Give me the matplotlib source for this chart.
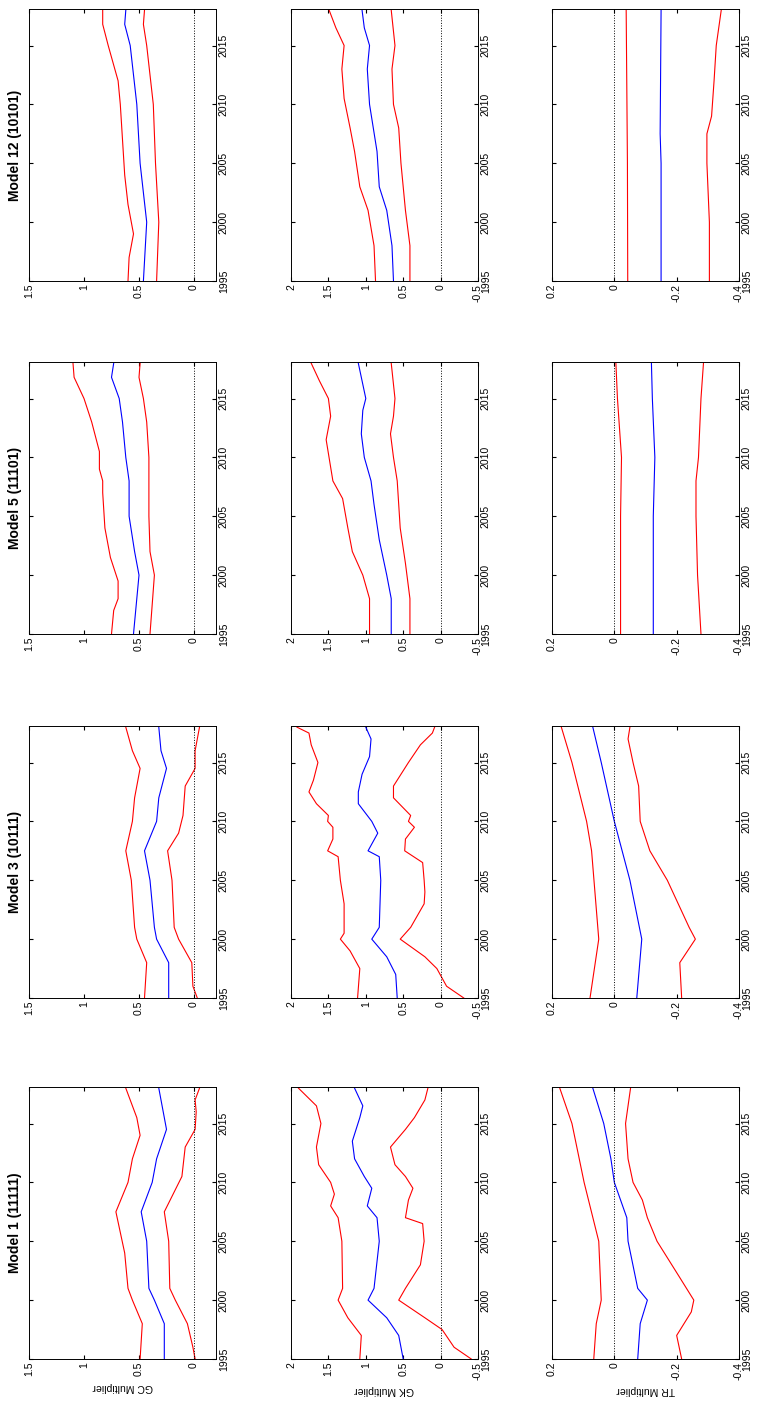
import matplotlib
matplotlib.use("Agg")
import matplotlib.pyplot as plt

plt.rcParams['font.family'] = ['Liberation Sans', 'DejaVu Sans']

models = ["Model 12 (10101)", "Model 5 (11101)", "Model 3 (10111)", "Model 1 (11111)"]
variables = ["GC", "GK", "TR"]

# ---- GC multiplier: (years, upper, mid, lower) ----
gc_m1_up_yr = [1995, 1998, 2000, 2001, 2004, 2007.5, 2010, 2012, 2014, 2015.5, 2018]
gc_m1_up = [0.49, 0.47, 0.56, 0.60, 0.63, 0.71, 0.60, 0.56, 0.49, 0.52, 0.62]
gc_m1_mid_yr = [1995, 1998, 2000, 2001, 2005, 2007.5, 2010, 2012, 2014.5, 2016, 2018]
gc_m1_mid = [0.27, 0.27, 0.36, 0.41, 0.43, 0.48, 0.38, 0.34, 0.25, 0.28, 0.32]
gc_m1_lo_yr = [1995, 1996, 1998, 2000, 2001, 2005, 2007.5, 2009, 2010.5, 2013, 2014.5, 2016, 2017, 2018]
gc_m1_lo = [-0.01, 0.01, 0.06, 0.17, 0.22, 0.23, 0.27, 0.19, 0.11, 0.08, -0.01, -0.02, -0.01, -0.05]

gc_m3_up_yr = [1995, 1998, 2000, 2001, 2005, 2007.5, 2010, 2012, 2014.5, 2016, 2018]
gc_m3_up = [0.45, 0.43, 0.52, 0.54, 0.57, 0.62, 0.56, 0.54, 0.49, 0.56, 0.62]
gc_m3_mid_yr = [1995, 1998, 2000, 2001, 2005, 2007.5, 2010, 2012, 2014.5, 2016, 2018]
gc_m3_mid = [0.23, 0.23, 0.34, 0.36, 0.40, 0.45, 0.34, 0.32, 0.25, 0.30, 0.32]
gc_m3_lo_yr = [1995, 1996, 1998, 2000, 2001, 2005, 2007.5, 2009, 2010.5, 2013, 2014.5, 2016, 2018]
gc_m3_lo = [-0.03, 0.01, 0.02, 0.14, 0.18, 0.20, 0.24, 0.14, 0.10, 0.08, -0.01, -0.01, -0.05]

gc_m5_up_yr = [1995, 1997, 1998, 1999.5, 2001.5, 2004, 2007, 2008, 2009, 2010.5, 2013, 2015, 2016.8, 2018]
gc_m5_up = [0.75, 0.73, 0.69, 0.69, 0.76, 0.81, 0.83, 0.83, 0.86, 0.86, 0.93, 1.00, 1.09, 1.10]
gc_m5_mid_yr = [1995, 1998, 2000, 2002, 2005, 2008, 2010, 2013, 2015, 2016.8, 2018]
gc_m5_mid = [0.55, 0.52, 0.50, 0.54, 0.59, 0.59, 0.62, 0.65, 0.68, 0.75, 0.73]
gc_m5_lo_yr = [1995, 2000, 2002, 2005, 2010, 2013, 2015, 2016.8, 2018]
gc_m5_lo = [0.40, 0.36, 0.40, 0.41, 0.41, 0.43, 0.46, 0.50, 0.49]

gc_m12_up_yr = [1995, 1997, 1999, 2001.5, 2004, 2007, 2010, 2012, 2015, 2016.8, 2018]
gc_m12_up = [0.60, 0.59, 0.55, 0.60, 0.63, 0.65, 0.67, 0.69, 0.78, 0.83, 0.83]
gc_m12_mid_yr = [1995, 2000, 2005, 2010, 2015, 2016.8, 2018]
gc_m12_mid = [0.46, 0.43, 0.49, 0.52, 0.58, 0.63, 0.62]
gc_m12_lo_yr = [1995, 2000, 2005, 2010, 2015, 2016.8, 2018]
gc_m12_lo = [0.34, 0.32, 0.35, 0.37, 0.43, 0.46, 0.45]

# ---- GK multiplier ----
gk_m1_up_yr = [1995, 1997, 1998.5, 2000, 2001, 2005, 2007, 2008, 2009, 2010, 2011.5, 2013, 2015, 2016.5, 2018]
gk_m1_up = [1.08, 1.06, 1.24, 1.37, 1.31, 1.32, 1.37, 1.47, 1.42, 1.47, 1.63, 1.66, 1.60, 1.66, 1.90]
gk_m1_mid_yr = [1995, 1997, 1998.5, 2000, 2001, 2005, 2007, 2008, 2009.5, 2010.5, 2012, 2013.5, 2015.5, 2016.5, 2018]
gk_m1_mid = [0.50, 0.56, 0.72, 0.97, 0.89, 0.82, 0.85, 0.98, 0.92, 1.02, 1.15, 1.18, 1.08, 1.04, 1.15]
gk_m1_lo_yr = [1995, 1996, 1997.5, 1998.5, 2000, 2001, 2003, 2005, 2006.5, 2007, 2008.5, 2009.5, 2010.5,
               2011.5, 2013, 2014.5, 2015.5, 2017, 2018]
gk_m1_lo = [-0.41, -0.18, -0.02, 0.21, 0.56, 0.47, 0.27, 0.22, 0.24, 0.47, 0.43, 0.37, 0.47,
            0.61, 0.67, 0.47, 0.35, 0.21, 0.17]

gk_m3_up_yr = [1995, 1997.5, 1999, 2000, 2000.5, 2003, 2005, 2007, 2007.5, 2008.5, 2009.5, 2010, 2010.5,
               2011.5, 2012.5, 2013.5, 2015, 2016.5, 2017.5, 2018]
gk_m3_up = [1.11, 1.08, 1.21, 1.34, 1.29, 1.29, 1.34, 1.37, 1.51, 1.44, 1.44, 1.51, 1.50,
            1.66, 1.76, 1.70, 1.64, 1.73, 1.76, 1.92]
gk_m3_mid_yr = [1995, 1997, 1998.5, 2000, 2001, 2005, 2007, 2007.5, 2009, 2010, 2011.5, 2012.5, 2014,
                2015.5, 2017, 2018]
gk_m3_mid = [0.58, 0.60, 0.72, 0.92, 0.82, 0.80, 0.82, 0.97, 0.84, 0.92, 1.10, 1.10, 1.05,
             0.95, 0.93, 1.00]
gk_m3_lo_yr = [1995, 1996, 1997.5, 1998.5, 2000, 2001, 2003, 2004, 2005, 2006.5, 2007.5, 2008.5, 2009.5,
               2010, 2010.5, 2012, 2013, 2015, 2016.5, 2017.5, 2018]
gk_m3_lo = [-0.31, -0.08, 0.05, 0.21, 0.54, 0.40, 0.22, 0.21, 0.22, 0.24, 0.48, 0.47, 0.35,
            0.43, 0.40, 0.63, 0.63, 0.43, 0.27, 0.11, 0.08]

gk_m5_up_yr = [1995, 1998, 2000, 2002, 2004, 2006.5, 2008, 2011.5, 2013.5, 2015, 2016.5, 2018]
gk_m5_up = [0.95, 0.95, 1.04, 1.18, 1.24, 1.31, 1.44, 1.53, 1.47, 1.50, 1.62, 1.73]
gk_m5_mid_yr = [1995, 1998, 2000, 2003, 2006, 2008, 2010, 2012, 2014, 2015, 2016.5, 2018]
gk_m5_mid = [0.66, 0.66, 0.72, 0.82, 0.89, 0.93, 1.02, 1.06, 1.04, 1.00, 1.05, 1.10]
gk_m5_lo_yr = [1995, 1998, 2001, 2004, 2008, 2010, 2012, 2013.5, 2015, 2018]
gk_m5_lo = [0.41, 0.41, 0.47, 0.54, 0.58, 0.63, 0.67, 0.63, 0.61, 0.66]

gk_m12_up_yr = [1995, 1998, 2001, 2003, 2006, 2008, 2010.5, 2013, 2015, 2016.5, 2018]
gk_m12_up = [0.87, 0.89, 0.97, 1.08, 1.15, 1.21, 1.29, 1.32, 1.29, 1.40, 1.49]
gk_m12_mid_yr = [1995, 1998, 2001, 2003, 2006, 2010, 2013, 2015, 2016.5, 2018]
gk_m12_mid = [0.63, 0.65, 0.72, 0.82, 0.85, 0.95, 0.98, 0.95, 1.02, 1.05]
gk_m12_lo_yr = [1995, 1998, 2001, 2005, 2008, 2010, 2013, 2015, 2018]
gk_m12_lo = [0.41, 0.41, 0.47, 0.53, 0.56, 0.63, 0.65, 0.61, 0.66]

# ---- TR multiplier ----
tr_m1_up_yr = [1995, 1998, 2000, 2005, 2010, 2015, 2018]
tr_m1_up = [0.066, 0.058, 0.042, 0.050, 0.097, 0.136, 0.175]
tr_m1_mid_yr = [1995, 1998, 2000, 2001, 2005, 2007, 2010, 2012, 2015, 2018]
tr_m1_mid = [-0.075, -0.083, -0.106, -0.075, -0.044, -0.040, 0.0, 0.011, 0.034, 0.069]
tr_m1_lo_yr = [1995, 1997, 1999, 2000, 2002, 2005, 2007, 2008.5, 2010, 2012, 2015, 2018]
tr_m1_lo = [-0.216, -0.200, -0.247, -0.255, -0.208, -0.137, -0.106, -0.090, -0.060, -0.044, -0.036, -0.052]

tr_m3_up_yr = [1995, 2000, 2007.5, 2010, 2015, 2018]
tr_m3_up = [0.078, 0.050, 0.073, 0.089, 0.136, 0.170]
tr_m3_mid_yr = [1995, 2000, 2005, 2010, 2015, 2018]
tr_m3_mid = [-0.072, -0.088, -0.050, 0.0, 0.042, 0.069]
tr_m3_lo_yr = [1995, 1998, 2000, 2001, 2005, 2007.5, 2010, 2013, 2015, 2017, 2018]
tr_m3_lo = [-0.216, -0.210, -0.260, -0.240, -0.170, -0.114, -0.083, -0.078, -0.060, -0.044, -0.050]

tr_m5_up_yr = [1995, 2005, 2010, 2015, 2018]
tr_m5_up = [-0.020, -0.020, -0.023, -0.010, -0.005]
tr_m5_mid_yr = [1995, 2005, 2010, 2015, 2018]
tr_m5_mid = [-0.125, -0.125, -0.130, -0.122, -0.119]
tr_m5_lo_yr = [1995, 2000, 2005, 2008, 2010, 2015, 2018]
tr_m5_lo = [-0.278, -0.267, -0.262, -0.262, -0.270, -0.278, -0.286]

tr_m12_up_yr = [1995, 2005, 2018]
tr_m12_up = [-0.043, -0.042, -0.038]
tr_m12_mid_yr = [1995, 2005, 2007.5, 2018]
tr_m12_mid = [-0.150, -0.150, -0.147, -0.150]
tr_m12_lo_yr = [1995, 2000, 2005, 2007.5, 2009, 2012, 2015, 2018]
tr_m12_lo = [-0.305, -0.305, -0.297, -0.297, -0.312, -0.320, -0.327, -0.343]

series = {
    ("GC", 0): [(gc_m12_up_yr, gc_m12_up, 'r'), (gc_m12_mid_yr, gc_m12_mid, 'b'), (gc_m12_lo_yr, gc_m12_lo, 'r')],
    ("GC", 1): [(gc_m5_up_yr, gc_m5_up, 'r'), (gc_m5_mid_yr, gc_m5_mid, 'b'), (gc_m5_lo_yr, gc_m5_lo, 'r')],
    ("GC", 2): [(gc_m3_up_yr, gc_m3_up, 'r'), (gc_m3_mid_yr, gc_m3_mid, 'b'), (gc_m3_lo_yr, gc_m3_lo, 'r')],
    ("GC", 3): [(gc_m1_up_yr, gc_m1_up, 'r'), (gc_m1_mid_yr, gc_m1_mid, 'b'), (gc_m1_lo_yr, gc_m1_lo, 'r')],
    ("GK", 0): [(gk_m12_up_yr, gk_m12_up, 'r'), (gk_m12_mid_yr, gk_m12_mid, 'b'), (gk_m12_lo_yr, gk_m12_lo, 'r')],
    ("GK", 1): [(gk_m5_up_yr, gk_m5_up, 'r'), (gk_m5_mid_yr, gk_m5_mid, 'b'), (gk_m5_lo_yr, gk_m5_lo, 'r')],
    ("GK", 2): [(gk_m3_up_yr, gk_m3_up, 'r'), (gk_m3_mid_yr, gk_m3_mid, 'b'), (gk_m3_lo_yr, gk_m3_lo, 'r')],
    ("GK", 3): [(gk_m1_up_yr, gk_m1_up, 'r'), (gk_m1_mid_yr, gk_m1_mid, 'b'), (gk_m1_lo_yr, gk_m1_lo, 'r')],
    ("TR", 0): [(tr_m12_up_yr, tr_m12_up, 'r'), (tr_m12_mid_yr, tr_m12_mid, 'b'), (tr_m12_lo_yr, tr_m12_lo, 'r')],
    ("TR", 1): [(tr_m5_up_yr, tr_m5_up, 'r'), (tr_m5_mid_yr, tr_m5_mid, 'b'), (tr_m5_lo_yr, tr_m5_lo, 'r')],
    ("TR", 2): [(tr_m3_up_yr, tr_m3_up, 'r'), (tr_m3_mid_yr, tr_m3_mid, 'b'), (tr_m3_lo_yr, tr_m3_lo, 'r')],
    ("TR", 3): [(tr_m1_up_yr, tr_m1_up, 'r'), (tr_m1_mid_yr, tr_m1_mid, 'b'), (tr_m1_lo_yr, tr_m1_lo, 'r')],
}

value_limits = {"GC": (1.5, -0.2), "GK": (2, -0.5), "TR": (0.2, -0.4)}
value_ticks = {"GC": [0, 0.5, 1, 1.5], "GK": [-0.5, 0, 0.5, 1, 1.5, 2], "TR": [-0.4, -0.2, 0, 0.2]}
year_ticks = [1995, 2000, 2005, 2010, 2015]

W, H = 758, 1404
fig = plt.figure(figsize=(W / 100, H / 100), dpi=100)
col_left = [29, 291, 552]
row_top = [9, 362, 726, 1087]
pw, ph = 187, 272

for j, var in enumerate(variables):
    for i, model in enumerate(models):
        ax = fig.add_axes([col_left[j] / W, 1 - (row_top[i] + ph) / H, pw / W, ph / H])
        for yrs, vals, c in series[(var, i)]:
            ax.plot(vals, yrs, color=c, lw=0.8)
        ax.axvline(0, color='k', ls=':', lw=0.7)
        ax.set_xlim(*value_limits[var])
        ax.set_ylim(1995, 2018.1)
        ax.set_xticks(value_ticks[var])
        ax.set_xticklabels([f"{t:g}" for t in value_ticks[var]], rotation=90, fontsize=7.5)
        ax.yaxis.tick_right()
        ax.set_yticks(year_ticks)
        ax.set_yticklabels([str(y) for y in year_ticks], rotation=90, fontsize=7.5, va='center')
        ax.tick_params(direction='in', length=3, top=True, left=True, pad=2)
        for s in ax.spines.values():
            s.set_linewidth(0.7)
        if j == 0:
            ax.text(-0.04, 0.5, model, transform=ax.transAxes, rotation=90, ha='right',
                    va='center', fontsize=10, fontweight='bold')
        if i == 3:
            ax.set_xlabel(var + " Multiplier", rotation=180, fontsize=7.5, labelpad=4)

fig.savefig("out.png", dpi=100)
